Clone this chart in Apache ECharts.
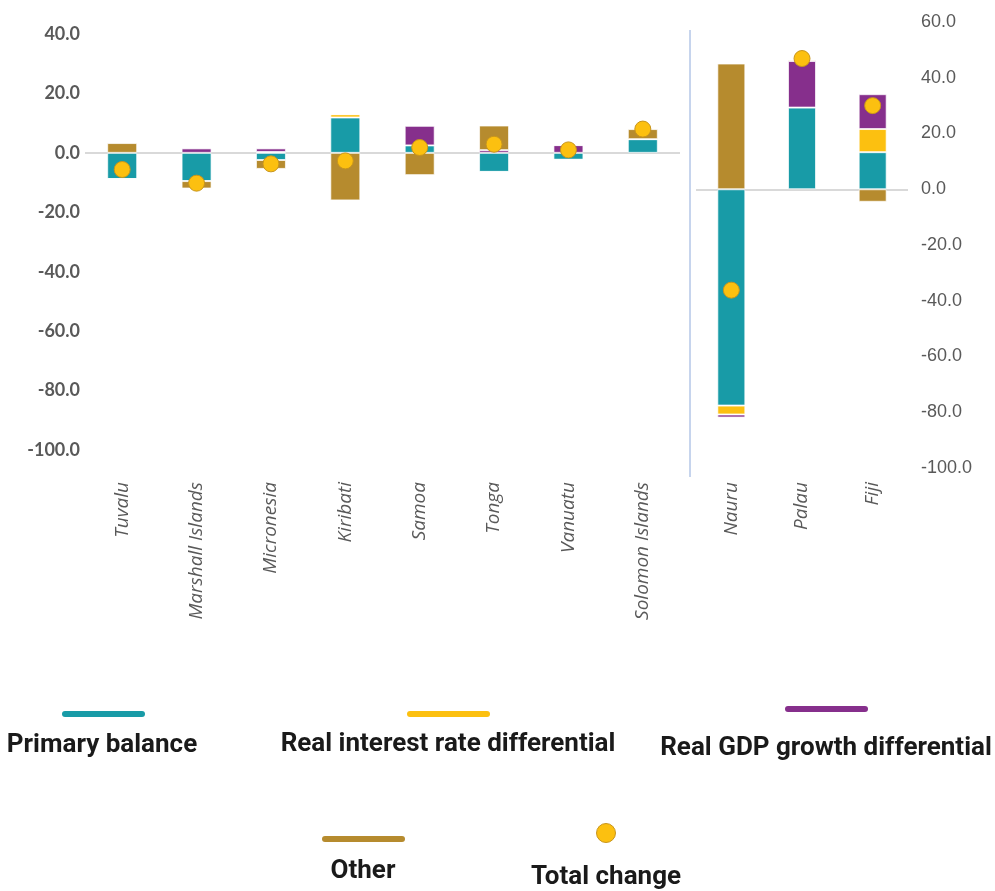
<!DOCTYPE html>
<html>
<head>
<meta charset="utf-8">
<script src="https://cdn.jsdelivr.net/npm/echarts@6/dist/echarts.min.js"></script>
<style>html,body{margin:0;padding:0;background:#fff}#c{width:995px;height:891px}</style>
</head>
<body>
<div id="c"></div>
<script>
// ---- data ----
var leftCategories = ['Tuvalu', 'Marshall Islands', 'Micronesia', 'Kiribati', 'Samoa', 'Tonga', 'Vanuatu', 'Solomon Islands'];
var primaryLeft  = [-8.8, -9.5, -2.4, 11.9, 2.5, -6.4, -2.3, 4.6];
var interestLeft = [0, 0, 0.3, 1.1, 0, 0, 0, 0];
var growthLeft   = [0, 1.5, 1.2, 0, 6.6, 0.9, 2.6, 0];
var otherLeft    = [3.3, -2.5, -3.0, -16.0, -7.5, 8.3, 0, 3.4];
var totalLeft    = [-5.6, -10.2, -3.7, -2.7, 1.8, 2.9, 1.0, 8.0];

var rightCategories = ['Nauru', 'Palau', 'Fiji'];
var primaryRight  = [-77.6, 29.3, 13.3];
var interestRight = [-3.2, 0, 8.3];
var growthRight   = [-1.1, 16.7, 12.5];
var otherRight    = [45.1, 0.5, -4.5];
var totalRight    = [-36.2, 46.9, 30.0];

var seriesNames = ['Primary balance', 'Real interest rate differential', 'Real GDP growth differential', 'Other', 'Total change'];
var seriesColors = ['#189ba7', '#fcc010', '#862f8c', '#b68b2e', '#fcc010'];

// ---- chart ----
var chart = echarts.init(document.getElementById('c'), null, {renderer: 'canvas'});

var catLabel = {
  rotate: 90, fontFamily: 'Open Sans', fontStyle: 'italic', fontSize: 19, color: '#595959'
};

function barSeries(name, color, data, xi, barW, stack, withZero) {
  var s = {
    name: name, type: 'bar', stack: stack, data: data,
    xAxisIndex: xi, yAxisIndex: xi, barWidth: barW,
    itemStyle: {color: color, borderColor: 'rgba(255,255,255,0.7)', borderWidth: 1},
    emphasis: {disabled: true}
  };
  if (withZero) {
    s.markLine = {
      silent: true, symbol: 'none', label: {show: false},
      lineStyle: {color: '#d9d9d9', type: 'solid', width: 2},
      data: [{yAxis: 0}], z: 1
    };
  }
  return s;
}

function scatterSeries(data, xi) {
  return {
    name: seriesNames[4], type: 'scatter', data: data,
    xAxisIndex: xi, yAxisIndex: xi, symbolSize: 16, z: 10,
    itemStyle: {color: seriesColors[4], opacity: 1, borderColor: '#c8951c', borderWidth: 1},
    emphasis: {disabled: true}
  };
}

var series = [
  barSeries(seriesNames[0], seriesColors[0], primaryLeft, 0, 30, 'L', true),
  barSeries(seriesNames[1], seriesColors[1], interestLeft, 0, 30, 'L'),
  barSeries(seriesNames[2], seriesColors[2], growthLeft, 0, 30, 'L'),
  barSeries(seriesNames[3], seriesColors[3], otherLeft, 0, 30, 'L'),
  scatterSeries(totalLeft, 0),
  barSeries(seriesNames[0], seriesColors[0], primaryRight, 1, 28, 'R', true),
  barSeries(seriesNames[1], seriesColors[1], interestRight, 1, 28, 'R'),
  barSeries(seriesNames[2], seriesColors[2], growthRight, 1, 28, 'R'),
  barSeries(seriesNames[3], seriesColors[3], otherRight, 1, 28, 'R'),
  scatterSeries(totalRight, 1)
];

// legend drawn as graphics (icon above text)
var legendPos = [
  {lx: 62, ly: 711, tx: 102, ty: 745},
  {lx: 407, ly: 711, tx: 448, ty: 744},
  {lx: 785, ly: 706, tx: 826, ty: 748},
  {lx: 322, ly: 836, tx: 363, ty: 871},
  {lx: 606, ly: 833, tx: 606, ty: 877}
];
var graphics = [{
  type: 'line', silent: true,
  shape: {x1: 690, y1: 30, x2: 690, y2: 477},
  style: {stroke: '#8eaadb', lineWidth: 1}
}];
seriesNames.forEach(function (n, i) {
  var p = legendPos[i];
  if (i < 4) {
    graphics.push({type: 'rect', silent: true, shape: {x: p.lx, y: p.ly, width: 83, height: 6, r: 3},
      style: {fill: seriesColors[i]}});
  } else {
    graphics.push({type: 'circle', silent: true, shape: {cx: p.lx, cy: p.ly, r: 9.5},
      style: {fill: seriesColors[4], stroke: '#c8951c', lineWidth: 1}});
  }
  graphics.push({type: 'text', silent: true, x: p.tx, y: p.ty,
    style: {text: n, fill: '#1a1a1a', font: 'bold 26px Roboto', textAlign: 'center', textVerticalAlign: 'middle'}});
});

var option = {
  backgroundColor: '#ffffff',
  animation: false,
  grid: [
    {left: 85, width: 595, top: 34, height: 416},
    {left: 696, width: 212, top: 22, height: 446}
  ],
  xAxis: [
    {type: 'category', gridIndex: 0, data: leftCategories,
      axisLine: {show: false, onZero: false}, axisTick: {show: false},
      axisLabel: Object.assign({margin: 32, interval: 0}, catLabel)},
    {type: 'category', gridIndex: 1, data: rightCategories,
      axisLine: {show: false, onZero: false}, axisTick: {show: false},
      axisLabel: Object.assign({margin: 14, interval: 0}, catLabel)}
  ],
  yAxis: [
    {type: 'value', gridIndex: 0, min: -100, max: 40, interval: 20,
      splitLine: {show: false}, axisLine: {show: false}, axisTick: {show: false},
      axisLabel: {formatter: function (v) { return v.toFixed(1); }, margin: 5,
        fontFamily: 'Lato', fontWeight: 'bold', fontSize: 18, color: '#595959'}},
    {type: 'value', gridIndex: 1, min: -100, max: 60, interval: 20, position: 'right',
      splitLine: {show: false}, axisLine: {show: false}, axisTick: {show: false},
      axisLabel: {formatter: function (v) { return v.toFixed(1); }, margin: 13,
        fontFamily: 'Liberation Sans', fontSize: 18, color: '#595959'}}
  ],
  series: series,
  graphic: graphics
};
chart.setOption(option);
</script>
</body>
</html>
